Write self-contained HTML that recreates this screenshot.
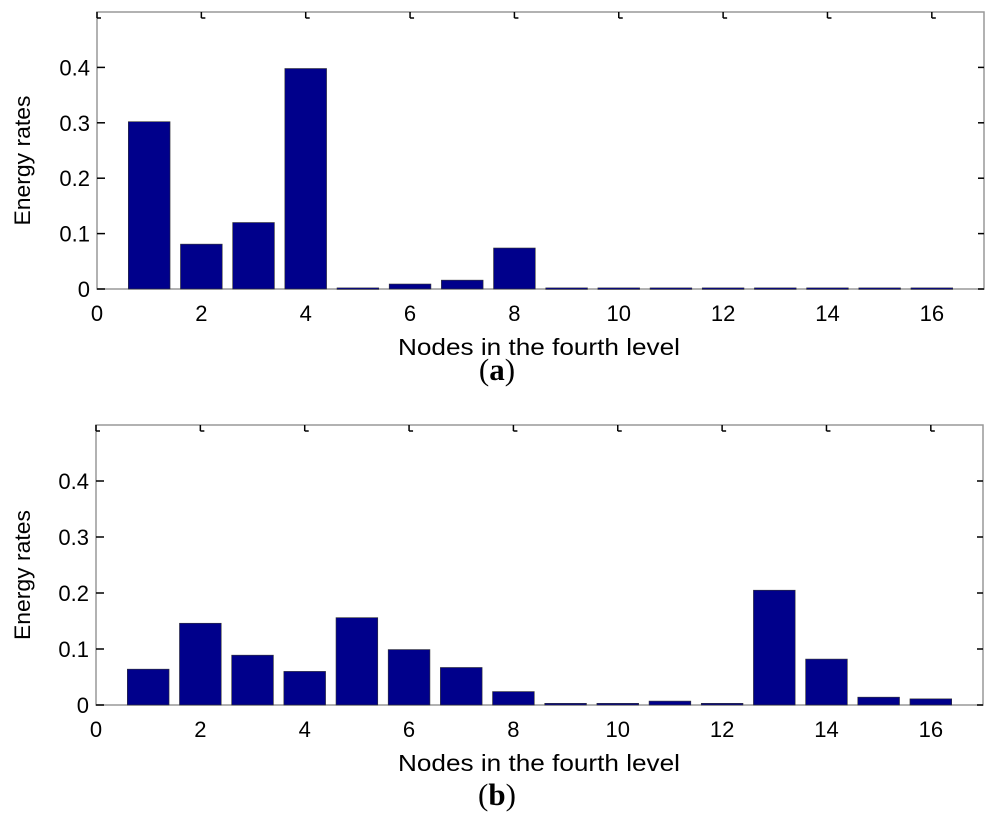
<!DOCTYPE html>
<html><head><meta charset="utf-8"><style>
html,body{margin:0;padding:0;background:#fff;}
svg{display:block;font-family:"Liberation Sans",Arial,sans-serif;}
</style></head><body>
<svg id="chart" width="1000" height="838" viewBox="0 0 1000 838" xmlns="http://www.w3.org/2000/svg"></svg>
<script>
const categories = [1,2,3,4,5,6,7,8,9,10,11,12,13,14,15,16];
const seriesA = [0.302,0.081,0.120,0.398,0.002,0.009,0.016,0.074,0.002,0.002,0.002,0.002,0.002,0.002,0.002,0.002];
const seriesB = [0.064,0.146,0.089,0.060,0.156,0.099,0.067,0.024,0.003,0.003,0.007,0.003,0.205,0.082,0.014,0.011];
const xTicks = [0,2,4,6,8,10,12,14,16];
const yTicks = [0,0.1,0.2,0.3,0.4];
const yTickLabels = ["0","0.1","0.2","0.3","0.4"];
const xMax = 17, yMax = 0.5;

const NS = "http://www.w3.org/2000/svg";
const svg = document.getElementById('chart');
function mk(tag, attrs, parent){
  const e = document.createElementNS(NS, tag);
  for (const k in attrs) e.setAttribute(k, attrs[k]);
  (parent||svg).appendChild(e);
  return e;
}
function drawPanel(vals, top, bottom, left, right, label, id, capOff){
  const g = mk('g', {});
  
  
  const xs = v => left + (right-left) * v / xMax;
  const ys = v => bottom - (bottom-top) * v / yMax;
  const frame = mk('rect', {x:left, y:top, width:right-left, height:bottom-top, fill:'none', stroke:'#999', 'stroke-width':1.5}, g);
  
  
  vals.forEach((v,i) => {
    const c = categories[i];
    const x0 = xs(c-0.4), x1 = xs(c+0.4);
    const r = mk('rect', {x:x0, y:ys(v), width:x1-x0, height:Math.max(ys(0)-ys(v),1.5), fill:'#00008b', stroke:'#333', 'stroke-width':0.6}, g);
    
    
  });
  xTicks.forEach(t => {
    const x = xs(t);
    mk('line', {x1:x, x2:x, y1:top, y2:top+6, stroke:'#000', 'stroke-width':1.5}, g);
    mk('line', {x1:x, x2:x+4, y1:top+6, y2:top+6, stroke:'#000', 'stroke-width':1.5}, g);
    const tl = mk('text', {x:x, y:bottom+32, 'font-size':22, 'text-anchor':'middle', fill:'#000'}, g);
    tl.textContent = String(t);
    
    
  });
  yTicks.forEach((t,i) => {
    const y = ys(t);
    mk('line', {x1:left, x2:left+8, y1:y, y2:y, stroke:'#000', 'stroke-width':1.5}, g);
    mk('line', {x1:right-6, x2:right, y1:y, y2:y, stroke:'#000', 'stroke-width':1.5}, g);
    const tl = mk('text', {x:left-7, y:y+8, 'font-size':22, 'text-anchor':'end', fill:'#000'}, g);
    tl.textContent = yTickLabels[i];
    
    
  });
  const xl = mk('text', {x:539, y:bottom+66, 'font-size':23, 'text-anchor':'middle', fill:'#000', textLength:282, lengthAdjust:'spacingAndGlyphs'}, g);
  xl.textContent = 'Nodes in the fourth level';
  
  
  const yl = mk('text', {x:0, y:0, 'font-size':22, 'text-anchor':'middle', fill:'#000', transform:'translate(30,'+((top+bottom)/2+10)+') rotate(-90)', textLength:130, lengthAdjust:'spacingAndGlyphs'}, g);
  yl.textContent = 'Energy rates';
  
  
  const cap = mk('text', {x:497, y:bottom+capOff, 'font-size':31, 'text-anchor':'middle', fill:'#000', 'font-family':'"Liberation Serif",serif'}, g);
  cap.innerHTML = '(<tspan font-weight="bold">' + label + '</tspan>)';
  
  
}
drawPanel(seriesA, 12, 289, 97, 984, 'a', 'a', 91);
drawPanel(seriesB, 425, 705, 96, 983, 'b', 'b', 100);
</script>
</body></html>
